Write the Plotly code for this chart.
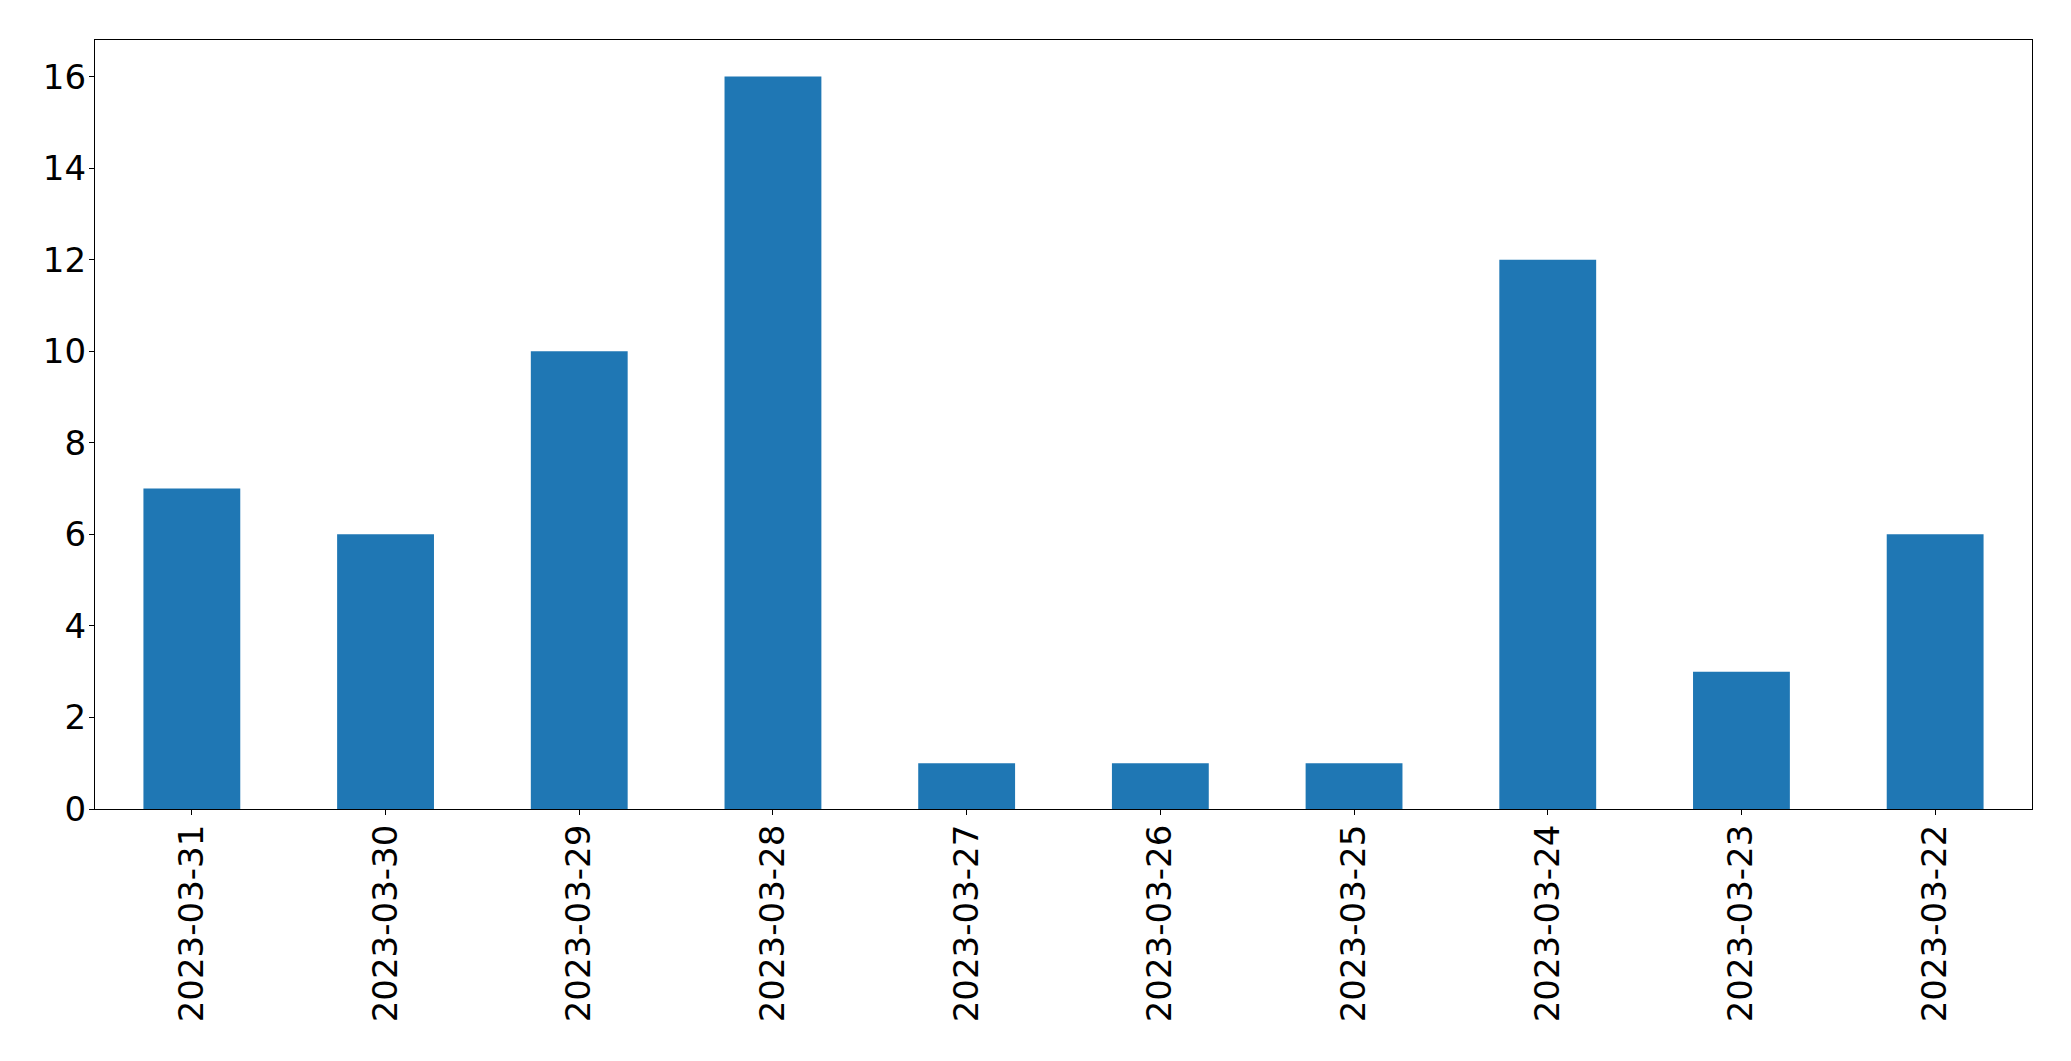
import plotly.graph_objects as go

dates = ["2023-03-31", "2023-03-30", "2023-03-29", "2023-03-28", "2023-03-27",
         "2023-03-26", "2023-03-25", "2023-03-24", "2023-03-23", "2023-03-22"]
counts = [7, 6, 10, 16, 1, 1, 1, 12, 3, 6]
y_ticks = [0, 2, 4, 6, 8, 10, 12, 14, 16]

fig = go.Figure(go.Bar(x=dates, y=counts, width=0.5, marker_color="#1f77b4",
                       marker_line_width=0))

# page body has an 8px margin; compensate so the plot lands where the reference is
fig.update_layout(
    width=2055, height=1045,
    margin=dict(l=86.5, r=31, t=31.5, b=244),
    paper_bgcolor="white", plot_bgcolor="white",
    font=dict(family="DejaVu Sans", size=34, color="black"),
    showlegend=False,
)
fig.update_xaxes(type="category", range=[-0.5, 9.5], tickangle=-90, automargin=False,
                 showline=True, linecolor="black", linewidth=1.2, mirror=True,
                 ticks="outside", ticklen=5, tickwidth=1.2, tickcolor="black",
                 showgrid=False, zeroline=False, ticklabelstandoff=-4)
fig.update_yaxes(range=[0, 16.8], tickvals=y_ticks, automargin=False,
                 showline=True, linecolor="black", linewidth=1.2, mirror=True,
                 ticks="outside", ticklen=5, tickwidth=1.2, tickcolor="black",
                 showgrid=False, zeroline=False, ticklabelstandoff=-4)

fig.write_html("out.html")
